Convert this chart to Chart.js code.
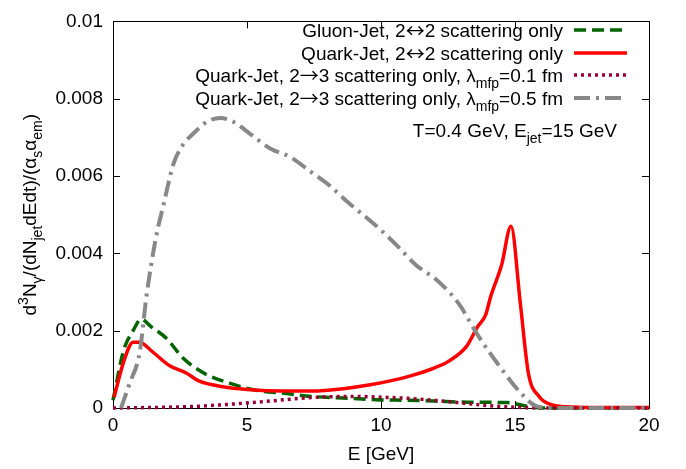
<!DOCTYPE html>
<html>
<head>
<meta charset="utf-8">
<script src="https://cdn.jsdelivr.net/npm/chart.js@4.4.0/dist/chart.umd.min.js"></script>
<style>
  html, body { margin: 0; padding: 0; background: #fff; }
</style>
</head>
<body>
<canvas id="chart" width="686" height="469"></canvas>
<script>
const FONT = "'Liberation Sans', Arial, sans-serif";
const ARROW_FONT = "'Noto Sans CJK SC', 'DejaVu Sans', sans-serif";

// Gluon-Jet, 2<->2 scattering only
const gluonE = [0, 0.4, 0.75, 1.05, 1.43, 2.0, 2.6, 3.4, 4.4, 5.4, 6.4, 7.4, 8.8, 10.0, 11.0, 12.0, 13.2, 14.7, 15.5, 16, 20];
const gluonY = [0.0002, 0.0015, 0.002, 0.0023, 0.0021, 0.0018, 0.0013, 0.0009, 0.00063, 0.00045, 0.00038, 0.0003, 0.00025, 0.00021, 0.0002, 0.00018, 0.00015, 0.00014, 0.00004, 0, 0];

// Quark-Jet, 2<->2 scattering only
const quarkE = [0.04, 0.4, 0.75, 1.0, 1.4, 2.1, 2.75, 3.2, 4.1, 5.0, 6.4, 7.4, 8.6, 9.6, 10.6, 11.1, 12.0, 12.5, 13.2, 13.6, 13.9, 14.1, 14.5, 14.85, 15.2, 15.5, 15.9, 16.3, 16.9, 18, 20];
const quarkY = [0.00028, 0.0012, 0.0017, 0.0017, 0.0015, 0.0011, 0.0009, 0.0007, 0.00055, 0.00048, 0.00044, 0.00044, 0.0005, 0.0006, 0.00074, 0.00083, 0.00104, 0.0012, 0.0016, 0.0021, 0.0024, 0.0029, 0.0037, 0.0047, 0.0027, 0.0009, 0.0003, 0.0001, 0.00003, 0.00001, 0.00001];

// Quark-Jet, 2->3 scattering only, lambda_mfp = 0.1 fm
const mfp01E = [0, 2, 3, 4, 5, 6, 7, 8, 9, 10, 11, 12, 13, 14, 15, 16, 20];
const mfp01Y = [0, 0.00002, 0.00004, 0.00008, 0.00013, 0.00019, 0.00025, 0.00029, 0.0003, 0.00028, 0.00025, 0.0002, 0.00013, 0.00006, 0.00002, 0, 0];

// Quark-Jet, 2->3 scattering only, lambda_mfp = 0.5 fm
const mfp05E = [0.3, 0.6, 1.0, 1.25, 1.6, 1.9, 2.25, 2.6, 3.0, 3.5, 4.0, 4.5, 5.1, 5.9, 6.6, 7.4, 8.0, 8.8, 9.5, 10.0, 10.6, 11.3, 12.1, 12.9, 13.6, 14.4, 15.2, 15.8, 16.5, 20];
const mfp05Y = [0, 0.0006, 0.00146, 0.0029, 0.0044, 0.0053, 0.0063, 0.0068, 0.0071, 0.0074, 0.0075, 0.0074, 0.0071, 0.0067, 0.0065, 0.0061, 0.0058, 0.0053, 0.0049, 0.0046, 0.0042, 0.0037, 0.0033, 0.0027, 0.0019, 0.0011, 0.0004, 0.00005, 0, 0];

const xTicks = [0, 5, 10, 15, 20];
const yTicks = [0, 0.002, 0.004, 0.006, 0.008, 0.01];

// legend texts, with sub/superscript pieces
const legendRows = [
  [{ t: "Gluon-Jet, 2" }, { t: "\u2194", a: 1 }, { t: "2 scattering only" }],
  [{ t: "Quark-Jet, 2" }, { t: "\u2194", a: 1 }, { t: "2 scattering only" }],
  [{ t: "Quark-Jet, 2" }, { t: "\u2192", a: 1 }, { t: "3 scattering only, \u03bb" }, { t: "mfp", s: "sub" }, { t: "=0.1 fm" }],
  [{ t: "Quark-Jet, 2" }, { t: "\u2192", a: 1 }, { t: "3 scattering only, \u03bb" }, { t: "mfp", s: "sub" }, { t: "=0.5 fm" }]
];
const noteText = [{ t: "T=0.4 GeV, E" }, { t: "jet", s: "sub" }, { t: "=15 GeV" }];
const yTitle = [
  { t: "d" }, { t: "3", s: "sup" }, { t: "N" }, { t: "\u03b3", s: "sub" },
  { t: "/(dN" }, { t: "jet", s: "sub" }, { t: "dEdt)/(\u03b1" }, { t: "s", s: "sub" },
  { t: "\u03b1" }, { t: "em", s: "sub" }, { t: ")" }
];

const toPoints = (xs, ys) => xs.map((x, i) => ({ x: x, y: ys[i] }));

function partFont(p, size) {
  const sz = p.s ? Math.round(size * 0.72) : size;
  return sz + "px " + (p.a ? ARROW_FONT : FONT);
}

function drawRich(ctx, parts, x, y, align, size) {
  let w = 0;
  parts.forEach(p => {
    ctx.font = partFont(p, size);
    p.w = ctx.measureText(p.t).width;
    w += p.w;
  });
  let cx = align === "right" ? x - w : align === "center" ? x - w / 2 : x;
  ctx.textAlign = "left";
  ctx.textBaseline = "alphabetic";
  parts.forEach(p => {
    ctx.font = partFont(p, size);
    let dy = p.s === "sub" ? size * 0.3 : p.s === "sup" ? -size * 0.42 : 0;
    if (p.a) dy += size * 0.06;
    ctx.fillText(p.t, cx, y + dy);
    cx += p.w;
  });
}

const framePlugin = {
  id: "frame",
  beforeDatasetsDraw(chart) {
    const { ctx, chartArea: a, scales } = chart;
    ctx.save();
    ctx.strokeStyle = "#000";
    ctx.lineWidth = 1;
    ctx.beginPath();
    xTicks.forEach(v => {
      const px = Math.round(scales.x.getPixelForValue(v)) + 0.5;
      ctx.moveTo(px, a.bottom); ctx.lineTo(px, a.bottom - 7);
      ctx.moveTo(px, a.top); ctx.lineTo(px, a.top + 7);
    });
    yTicks.forEach(v => {
      const py = Math.round(scales.y.getPixelForValue(v)) + 0.5;
      ctx.moveTo(a.left, py); ctx.lineTo(a.left + 7, py);
      ctx.moveTo(a.right, py); ctx.lineTo(a.right - 7, py);
    });
    ctx.stroke();
    ctx.strokeRect(Math.round(a.left) + 0.5, Math.round(a.top) + 0.5,
      Math.round(a.right - a.left), Math.round(a.bottom - a.top));
    ctx.restore();
  },
  afterDraw(chart) {
    const { ctx, chartArea: a } = chart;
    ctx.save();
    ctx.fillStyle = "#000";
    // y axis title
    ctx.translate(29, (a.top + a.bottom) / 2);
    ctx.rotate(-Math.PI / 2);
    drawRich(ctx, yTitle, 0, 7, "center", 19);
    ctx.restore();

    // key
    ctx.save();
    const baselines = [37, 60, 82, 105];
    baselines.forEach((b, r) => {
      const ds = chart.data.datasets[r];
      ctx.fillStyle = "#000";
      drawRich(ctx, legendRows[r], 563, b, "right", 19);
      ctx.save();
      ctx.strokeStyle = ds.borderColor;
      ctx.lineWidth = ds.borderWidth;
      ctx.lineCap = "butt";
      ctx.setLineDash(ds.borderDash || []);
      ctx.beginPath();
      ctx.moveTo(574, b - 7);
      ctx.lineTo(627, b - 7);
      ctx.stroke();
      ctx.restore();
    });
    ctx.fillStyle = "#000";
    drawRich(ctx, noteText, 617, 137, "right", 19);
    ctx.restore();
  }
};

new Chart(document.getElementById("chart"), {
  type: "line",
  data: {
    datasets: [
      {
        label: "Gluon-Jet, 2\u21942 scattering only",
        data: toPoints(gluonE, gluonY),
        borderColor: "#006400",
        borderWidth: 3.5,
        borderDash: [12, 6],
        order: 3
      },
      {
        label: "Quark-Jet, 2\u21942 scattering only",
        data: toPoints(quarkE, quarkY),
        borderColor: "#ff0000",
        borderWidth: 3.5,
        order: 2
      },
      {
        label: "Quark-Jet, 2\u21923 scattering only, \u03bbmfp=0.1 fm",
        data: toPoints(mfp01E, mfp01Y),
        borderColor: "#990033",
        borderWidth: 3.5,
        borderDash: [3, 4],
        order: 1
      },
      {
        label: "Quark-Jet, 2\u21923 scattering only, \u03bbmfp=0.5 fm",
        data: toPoints(mfp05E, mfp05Y),
        borderColor: "#888888",
        borderWidth: 4,
        borderDash: [16, 6, 3, 6],
        order: 0
      }
    ]
  },
  options: {
    responsive: false,
    animation: false,
    clip: 4,
    layout: { padding: { top: 12, right: 37, left: 0, bottom: 0 } },
    elements: {
      point: { radius: 0 },
      line: { tension: 0.3, cubicInterpolationMode: "monotone", fill: false }
    },
    plugins: { legend: { display: false }, tooltip: { enabled: false } },
    scales: {
      x: {
        type: "linear",
        min: 0,
        max: 20,
        afterBuildTicks: s => { s.ticks = xTicks.map(v => ({ value: v })); },
        afterFit: s => { s.height = 61; },
        ticks: { color: "#000", font: { family: FONT, size: 19 }, padding: 6, maxRotation: 0 },
        grid: { display: false, drawTicks: false },
        border: { display: false },
        title: { display: true, text: "E [GeV]", color: "#000", font: { family: FONT, size: 19 }, padding: { top: 0, bottom: 3 } }
      },
      y: {
        min: 0,
        max: 0.01,
        afterBuildTicks: s => { s.ticks = yTicks.map(v => ({ value: v })); },
        afterFit: s => { s.width = 113; },
        ticks: {
          color: "#000",
          font: { family: FONT, size: 19 },
          padding: 10,
          callback: v => String(Number(v.toFixed(3)))
        },
        grid: { display: false, drawTicks: false },
        border: { display: false }
      }
    }
  },
  plugins: [framePlugin]
});
</script>
</body>
</html>
